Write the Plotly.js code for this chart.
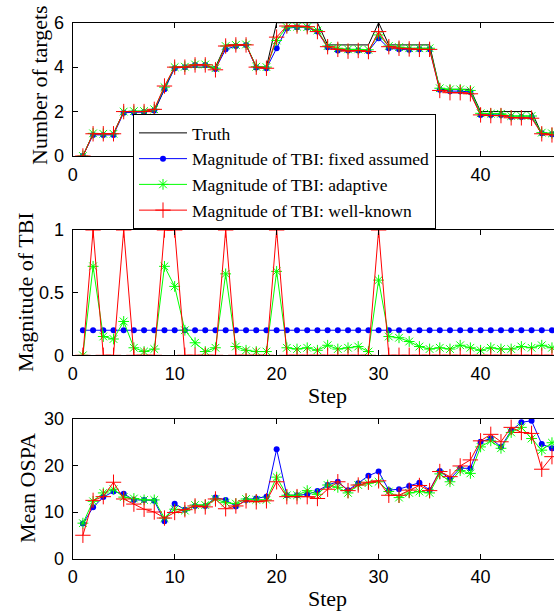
<!DOCTYPE html>
<html>
<head>
<meta charset="utf-8">
<script src="https://cdn.plot.ly/plotly-3.0.1.min.js"></script>
<style>html,body{margin:0;padding:0;background:#fff;}#chart{width:554px;height:612px;}</style>
</head>
<body>
<div id="chart"></div>
<script>
// ---------- data ----------
const steps = [1,2,3,4,5,6,7,8,9,10,11,12,13,14,15,16,17,18,19,20,21,22,23,24,25,26,27,28,29,30,31,32,33,34,35,36,37,38,39,40,41,42,43,44,45,46,47];

// Number of targets
const truthCount = [0,1,1,1,2,2,2,2,3,4,4,4,4,4,5,5,5,4,4,6,6,6,6,6,5,5,5,5,5,6,5,5,5,5,5,3,3,3,3,2,2,2,2,2,2,1,1];
const countFixed = [0,0.95,0.95,0.95,1.95,1.95,1.98,2.05,3.0,3.95,4.0,4.1,4.1,3.92,4.8,4.95,5.0,3.98,3.95,4.85,5.75,5.8,5.78,5.6,4.9,4.75,4.75,4.75,4.72,5.3,4.85,4.8,4.78,4.8,4.8,2.98,2.92,2.92,2.88,1.85,1.85,1.85,1.75,1.75,1.75,1.02,0.98];
const countAdaptive = [0,1.02,1.0,1.0,2.0,2.02,2.02,2.1,3.1,4.0,4.02,4.12,4.12,3.95,4.95,5.0,5.02,4.02,4.0,5.2,5.8,5.82,5.8,5.65,4.95,4.85,4.8,4.8,4.78,5.45,4.95,4.9,4.85,4.85,4.85,3.05,3.0,3.0,2.95,1.92,1.9,1.9,1.8,1.8,1.8,1.05,1.02];
const countKnown = [0,1.0,1.0,1.0,2.0,2.0,2.0,2.1,3.15,4.0,4.0,4.1,4.1,3.88,4.95,5.0,5.0,4.0,3.95,5.35,5.85,5.85,5.82,5.6,4.92,4.8,4.72,4.75,4.7,5.6,4.92,4.85,4.82,4.8,4.8,2.95,2.85,2.85,2.8,1.85,1.82,1.82,1.72,1.72,1.7,1.0,0.95];

// Magnitude of TBI
const tbiFixed = [0.2,0.2,0.2,0.2,0.2,0.2,0.2,0.2,0.2,0.2,0.2,0.2,0.2,0.2,0.2,0.2,0.2,0.2,0.2,0.2,0.2,0.2,0.2,0.2,0.2,0.2,0.2,0.2,0.2,0.2,0.2,0.2,0.2,0.2,0.2,0.2,0.2,0.2,0.2,0.2,0.2,0.2,0.2,0.2,0.2,0.2,0.2];
const tbiAdaptive = [0.0,0.71,0.15,0.13,0.27,0.06,0.03,0.05,0.71,0.55,0.2,0.1,0.03,0.06,0.65,0.07,0.04,0.03,0.03,0.67,0.06,0.05,0.06,0.04,0.08,0.05,0.06,0.07,0.03,0.6,0.15,0.14,0.11,0.07,0.05,0.06,0.05,0.08,0.06,0.04,0.06,0.05,0.05,0.07,0.06,0.08,0.06];
const tbiKnown = [0,1,0,0,1,0,0,0,1,1,0,0,0,0,1,0,0,0,0,1,0,0,0,0,0,0,0,0,0,1,0,0,0,0,0,0,0,0,0,0,0,0,0,0,0,0,0];

// Mean OSPA
const ospaFixed = [7.5,11.0,13.2,14.4,13.9,12.6,12.6,12.4,8.0,11.8,10.5,11.3,11.3,13.1,12.6,11.2,12.6,12.9,13.3,23.5,13.6,13.6,13.8,14.5,15.8,16.5,14.7,16.2,17.8,18.7,14.7,14.9,15.6,16.3,14.7,18.8,17.1,19.4,19.4,25.1,25.8,24.0,27.5,29.3,29.6,24.6,23.7];
const ospaAdaptive = [7.6,12.3,14.1,14.9,13.2,12.9,12.6,12.6,8.7,10.6,10.3,11.5,11.5,12.8,12.0,11.8,12.8,12.6,12.6,17.5,13.6,13.6,14.6,13.8,15.8,15.3,14.1,15.8,16.2,16.5,14.4,13.1,14.1,14.4,14.1,18.2,16.5,18.9,18.3,24.0,25.3,23.7,27.1,28.2,25.8,23.3,24.9];
const ospaKnown = [5.0,12.5,13.3,16.4,12.8,11.7,10.6,10.0,8.7,9.9,10.5,11.3,11.1,12.8,10.7,11.3,12.4,12.2,12.4,16.5,13.3,13.3,13.3,12.9,14.9,16.5,14.6,15.8,16.4,16.7,13.6,13.6,14.7,15.7,14.6,18.7,17.6,19.9,21.2,25.3,26.7,25.1,28.2,27.1,26.9,19.2,21.9];

const seriesNames = ['Truth','Magnitude of TBI: fixed assumed','Magnitude of TBI: adaptive','Magnitude of TBI: well-known'];
const xTicks = [0,10,20,30,40];
const xTickText = ['0','10','20','30','40'];
const xTickTextTop = ['0','','','','40']; // middle labels lie under the legend box

// ---------- styles ----------
const BLUE = '#0000ff', GREEN = '#00ff00', RED = '#ff0000';
const styleFixed = {mode:'lines+markers', line:{color:BLUE,width:1}, marker:{symbol:'circle',size:6,color:BLUE}};
const styleAdaptive = {mode:'lines+markers', line:{color:GREEN,width:1}, marker:{symbol:'asterisk-open',size:9,color:GREEN,line:{color:GREEN,width:1}}};
const styleKnown = {mode:'lines+markers', line:{color:RED,width:1}, marker:{symbol:'cross-thin-open',size:11,color:RED,line:{color:RED,width:1}}};

function tr(y, style, name, xa, ya, show){
  return Object.assign({x:steps, y:y, name:name, xaxis:xa, yaxis:ya, showlegend:show, cliponaxis:true}, JSON.parse(JSON.stringify(style)));
}

const traces = [
  {x:steps, y:truthCount, name:seriesNames[0], mode:'lines', line:{color:'#000',width:1}, xaxis:'x', yaxis:'y'},
  tr(countFixed, styleFixed, seriesNames[1], 'x','y', true),
  tr(countAdaptive, styleAdaptive, seriesNames[2], 'x','y', true),
  tr(countKnown, styleKnown, seriesNames[3], 'x','y', true),
  tr(tbiFixed, styleFixed, seriesNames[1], 'x2','y2', false),
  tr(tbiAdaptive, styleAdaptive, seriesNames[2], 'x2','y2', false),
  tr(tbiKnown, styleKnown, seriesNames[3], 'x2','y2', false),
  tr(ospaFixed, styleFixed, seriesNames[1], 'x3','y3', false),
  tr(ospaAdaptive, styleAdaptive, seriesNames[2], 'x3','y3', false),
  tr(ospaKnown, styleKnown, seriesNames[3], 'x3','y3', false)
];

const W = 554, H = 612;
const xDom = [72.7/W, 1];
const tickFont = {family:'Liberation Sans, Arial, sans-serif', size:18, color:'#000'};
function xa(anchor, labels){
  return {domain:xDom, range:[0,47.2], anchor:anchor, tickvals:xTicks, ticktext:labels, ticks:'inside', ticklen:5,
    tickcolor:'#000', showline:true, linecolor:'#000', linewidth:1, mirror:'ticks', showgrid:false,
    zeroline:false, tickfont:tickFont, ticklabelstandoff:2};
}
function ya(anchor, dom, range, tv){
  return {domain:dom, range:range, anchor:anchor, tickvals:tv, ticks:'inside', ticklen:5,
    tickcolor:'#000', showline:true, linecolor:'#000', linewidth:1, mirror:false, showgrid:false,
    zeroline:false, tickfont:tickFont, ticklabelstandoff:4};
}
const serif = 'Liberation Serif, Times New Roman, serif';
function ann(text, xpx, ypx, rot){
  return {text:text, xref:'paper', yref:'paper', x:xpx/W, y:1-ypx/H, xanchor:'center', yanchor:'middle',
    showarrow:false, textangle:rot||0, font:{family:serif, size:22, color:'#000'}};
}

const layout = {
  width:W, height:H, margin:{l:0,r:0,t:0,b:0}, paper_bgcolor:'#fff', plot_bgcolor:'#fff',
  showlegend:true,
  legend:{x:133/W, y:1-114/H, xanchor:'left', yanchor:'top', bgcolor:'#fff', bordercolor:'#000', borderwidth:1,
    font:{family:serif, size:17.5, color:'#000'}, itemwidth:48, traceorder:'normal'},
  xaxis:xa('y', xTickTextTop), xaxis2:xa('y2', xTickText), xaxis3:xa('y3', xTickText),
  yaxis:ya('x', [1-156/H, 1-22.7/H], [0,6], [0,2,4,6]),
  yaxis2:ya('x2', [1-355.3/H, 1-230/H], [0,1], [0,0.5,1]),
  yaxis3:ya('x3', [1-558.5/H, 1-419/H], [0,30], [0,10,20,30]),
  annotations:[
    ann('Number of targets', 40, 85, -90),
    ann('Magnitude of TBI', 25, 292, -90),
    ann('Mean OSPA', 27, 488, -90),
    ann('Step', 327, 395),
    ann('Step', 327, 598)
  ]
};

Plotly.newPlot('chart', traces, layout, {staticPlot:true, displayModeBar:false});
</script>
</body>
</html>
